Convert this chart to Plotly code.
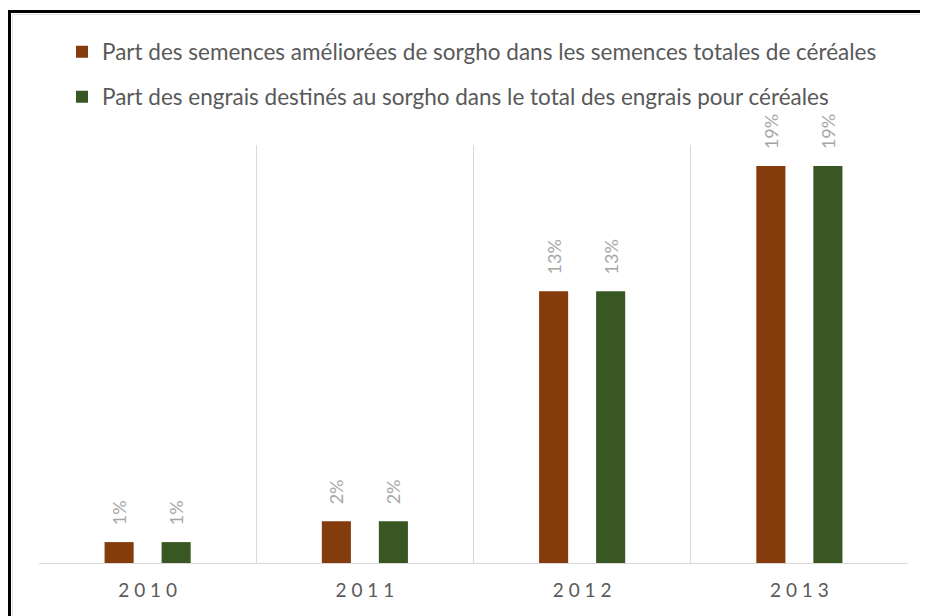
import plotly.graph_objects as go

years = ["2010", "2011", "2012", "2013"]
semences = [1, 2, 13, 19]
engrais = [1, 2, 13, 19]
noms = [
    "Part des semences améliorées de sorgho dans les semences totales de céréales",
    "Part des engrais destinés au sorgho dans le total des engrais pour céréales",
]
couleurs = ["#843c0c", "#385723"]

police = "Lato, Carlito, 'Open Sans', sans-serif"

fig = go.Figure()
for i, (vals, nom, coul) in enumerate(zip([semences, engrais], noms, couleurs)):
    fig.add_trace(go.Bar(
        x=years, y=vals, name=nom,
        marker=dict(color=coul, line=dict(width=0)),
        # espaces insécables pour décoller l'étiquette de la barre
        text=["\u00a0\u00a0\u00a0" + f"{v}%" for v in vals],
        textposition="outside", textangle=-90, constraintext="none",
        textfont=dict(color="#a6a6a6", size=18, family=police),
        cliponaxis=False,
        legend="legend" if i == 0 else "legend2",
    ))

# la page a une marge de 8px : tout est décalé
OFF = 8
W, H = 928 - OFF, 616 - OFF
L, R, T, B = 39 - OFF, 20, 145 - OFF, 53
pw, ph = W - L - R, H - T - B

def px_x(x):
    return (x - OFF - L) / pw

def px_y(y):
    return (H - B - (y - OFF)) / ph

leg = dict(orientation="v", xanchor="left", yanchor="middle", x=px_x(62),
           font=dict(size=22.5, color="#595959", family=police),
           bgcolor="rgba(0,0,0,0)", itemwidth=30)

fig.update_layout(
    width=W, height=H,
    margin=dict(l=L, r=R, t=T, b=B),
    paper_bgcolor="white", plot_bgcolor="white",
    barmode="group", bargap=0.475, bargroupgap=0.49,
    showlegend=True,
    legend=dict(leg, y=px_y(52)),
    legend2=dict(leg, y=px_y(97)),
    xaxis=dict(
        type="category", range=[-0.5, 3.5],
        tickson="boundaries", ticks="",
        showgrid=True, gridcolor="#d9d9d9", gridwidth=1,
        showline=True, linecolor="#d9d9d9", linewidth=1,
        ticktext=[" ".join(y) for y in years], tickvals=years,
        tickfont=dict(size=19, color="#595959", family=police),
        ticklabelstandoff=10,
    ),
    yaxis=dict(range=[0, 20], visible=False),
    shapes=[
        dict(type="line", xref="paper", yref="paper", x0=px_x(12), x1=px_x(940),
             y0=px_y(14.5), y1=px_y(14.5), line=dict(color="#e0e0e0", width=1)),
        dict(type="line", xref="paper", yref="paper", x0=px_x(12.5), x1=px_x(12.5),
             y0=px_y(14), y1=px_y(640), line=dict(color="#e0e0e0", width=1)),
        dict(type="line", xref="paper", yref="paper", x0=px_x(8), x1=px_x(940),
             y0=px_y(11.5), y1=px_y(11.5), line=dict(color="black", width=3)),
        dict(type="line", xref="paper", yref="paper", x0=px_x(9.5), x1=px_x(9.5),
             y0=px_y(10), y1=px_y(640), line=dict(color="black", width=3)),
    ],
)

fig.write_html("out.html")
